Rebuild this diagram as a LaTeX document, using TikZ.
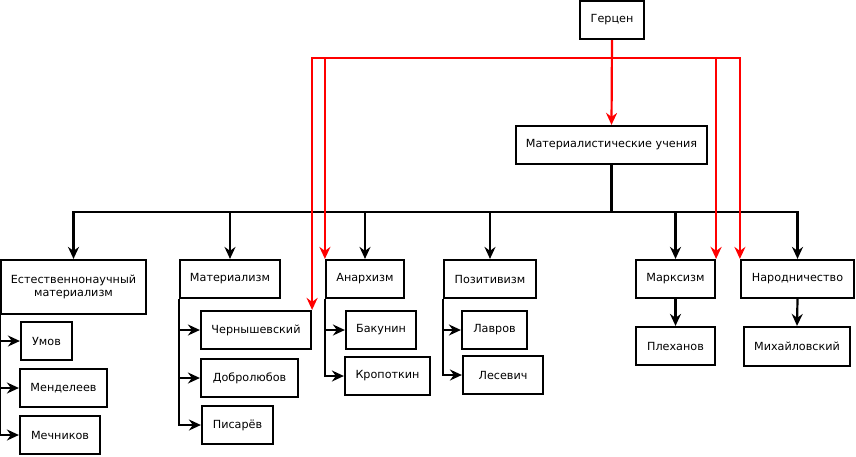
\documentclass[tikz,border=0pt]{standalone}
\usepackage{fontspec}
\setmainfont{DejaVu Sans}
\usetikzlibrary{arrows.meta}
\begin{document}
\begin{tikzpicture}[x=1pt,y=-1pt,
  box/.style={draw=black,line width=2.2pt,fill=white,inner sep=0pt,
    minimum height=38pt,font=\fontsize{11.2}{13.5}\selectfont,align=center},
  tip/.style={-{Stealth[length=12pt,width=11pt,inset=4pt]}},
  link/.style={draw=black,line width=2.2pt,tip},
  redlink/.style={draw=red,line width=2.2pt,tip}]
\useasboundingbox (0,0) rectangle (856,456);

% top
\node[box,minimum width=64pt] (gerzen) at (612,20) {Герцен};
\node[box,minimum width=191pt] (mat) at (611.5,145) {Материалистические учения};

% second level
\node[box,minimum width=145pt,minimum height=54pt] (est) at (73.5,287) {Естественнонаучный\\материализм};
\node[box,minimum width=100pt] (matism) at (230,279) {Материализм};
\node[box,minimum width=78pt] (anarch) at (365,279) {Анархизм};
\node[box,minimum width=92pt] (poz) at (490,279) {Позитивизм};
\node[box,minimum width=79pt] (marx) at (675.5,279) {Марксизм};
\node[box,minimum width=113pt] (narod) at (797.5,279) {Народничество};

% people
\node[box,minimum width=51pt] (umov) at (46.5,341) {Умов};
\node[box,minimum width=87pt] (mend) at (63.5,388) {Менделеев};
\node[box,minimum width=80pt] (mech) at (60,435) {Мечников};
\node[box,minimum width=110pt] (chern) at (256,330) {Чернышевский};
\node[box,minimum width=97pt] (dobr) at (249.5,378) {Добролюбов};
\node[box,minimum width=71pt] (pis) at (237.5,425) {Писарёв};
\node[box,minimum width=70pt] (bak) at (381,330) {Бакунин};
\node[box,minimum width=85pt] (krop) at (387.5,376) {Кропоткин};
\node[box,minimum width=65pt] (lavr) at (494.5,330) {Лавров};
\node[box,minimum width=80pt] (les) at (503,375) {Лесевич};
\node[box,minimum width=79pt] (plek) at (675.5,346) {Плеханов};
\node[box,minimum width=106pt,minimum height=39pt] (mikh) at (797,346.5) {Михайловский};

% black tree
\coordinate (bbus) at (611.5,212);
\foreach \t in {est,matism,anarch,poz,marx,narod}
  \draw[link] (mat.south) -- (bbus) -| (\t.north);
\draw[link] (est.south west) |- (umov.west);
\draw[link] (est.south west) |- (mend.west);
\draw[link] (est.south west) |- (mech.west);
\draw[link] (matism.south west) |- (chern.west);
\draw[link] (matism.south west) |- (dobr.west);
\draw[link] (matism.south west) |- (pis.west);
\draw[link] (anarch.south west) |- (bak.west);
\draw[link] (anarch.south west) |- (krop.west);
\draw[link] (poz.south west) |- (lavr.west);
\draw[link] (poz.south west) |- (les.west);
\draw[link] (marx.south) -- (plek.north);
\draw[link] (narod.south) -- (mikh.north);

% red influence lines from Herzen
\coordinate (rbus) at (612,58);
\draw[redlink] (gerzen.south) -- (mat.north);
\draw[redlink] (gerzen.south) -- (rbus) -| (chern.north east);
\draw[redlink] (gerzen.south) -- (rbus) -| (anarch.north west);
\draw[redlink] (gerzen.south) -- (rbus) -| (marx.north east);
\draw[redlink] (gerzen.south) -- (rbus) -| (narod.north west);
\end{tikzpicture}
\end{document}
